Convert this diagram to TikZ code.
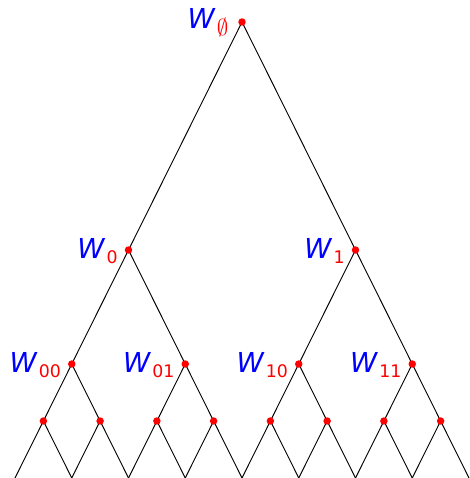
\documentclass[tikz,border=0pt]{standalone}
\usepackage{fontspec}
\setsansfont{DejaVu Sans}
\begin{document}
\begin{tikzpicture}[x=0.75pt,y=-0.75pt,
  edge/.style={black,line width=0.7pt},
  dot/.style={circle,fill=red,inner sep=0pt,minimum size=5.6pt},
  lab/.style={anchor=base east,inner sep=0pt,font=\fontsize{20.6}{24}\sffamily}]
\useasboundingbox (0,0) rectangle (469,478);
% coordinates
\coordinate (r) at (242,22);
\coordinate (n0) at (128.5,250);
\coordinate (n1) at (355.5,250);
\foreach \k/\nm in {0/00,1/01,2/10,3/11}{
  \coordinate (n\nm) at ({15+56.75*(1+2*\k)},364);
}
\foreach \j in {0,...,7}{
  \coordinate (m\j) at ({15+28.375+56.75*\j},421);
}
\foreach \i in {0,...,8}{
  \coordinate (l\i) at ({15+56.75*\i},478);
}
% edges
\draw[edge] (n0) -- (r) -- (n1);
\draw[edge] (n00) -- (n0) -- (n01);
\draw[edge] (n10) -- (n1) -- (n11);
\draw[edge] (m0) -- (n00) -- (m1);
\draw[edge] (m2) -- (n01) -- (m3);
\draw[edge] (m4) -- (n10) -- (m5);
\draw[edge] (m6) -- (n11) -- (m7);
\foreach \j [evaluate=\j as \jj using int(\j+1)] in {0,...,7}{
  \draw[edge] (l\j) -- (m\j) -- (l\jj);
}
% dots
\foreach \c in {r,n0,n1,n00,n01,n10,n11,m0,m1,m2,m3,m4,m5,m6,m7}{
  \node[dot] (d\c) at (\c) {};
}
% labels
\newcommand{\wlab}[2][-3.75pt]{\textcolor{blue}{\itshape W}\hspace{1.5pt}\raisebox{#1}{\textcolor{red}{\fontsize{13}{16}\selectfont #2}}}
\tikzset{lshift/.style={xshift=-8pt,yshift=-6.5pt}}
\node[lab] (tr) at ([xshift=-10pt,yshift=-5pt]r) {\wlab[-5pt]{\fontsize{16.5}{18}\selectfont\ensuremath{\emptyset}}};
\node[lab] (t0) at ([lshift]n0) {\wlab{0}};
\node[lab] (t1) at ([lshift]n1) {\wlab{1}};
\node[lab] (t00) at ([lshift]n00) {\wlab{00}};
\node[lab] (t01) at ([lshift]n01) {\wlab{01}};
\node[lab] (t10) at ([lshift]n10) {\wlab{10}};
\node[lab] (t11) at ([lshift]n11) {\wlab{11}};
\end{tikzpicture}
\end{document}
